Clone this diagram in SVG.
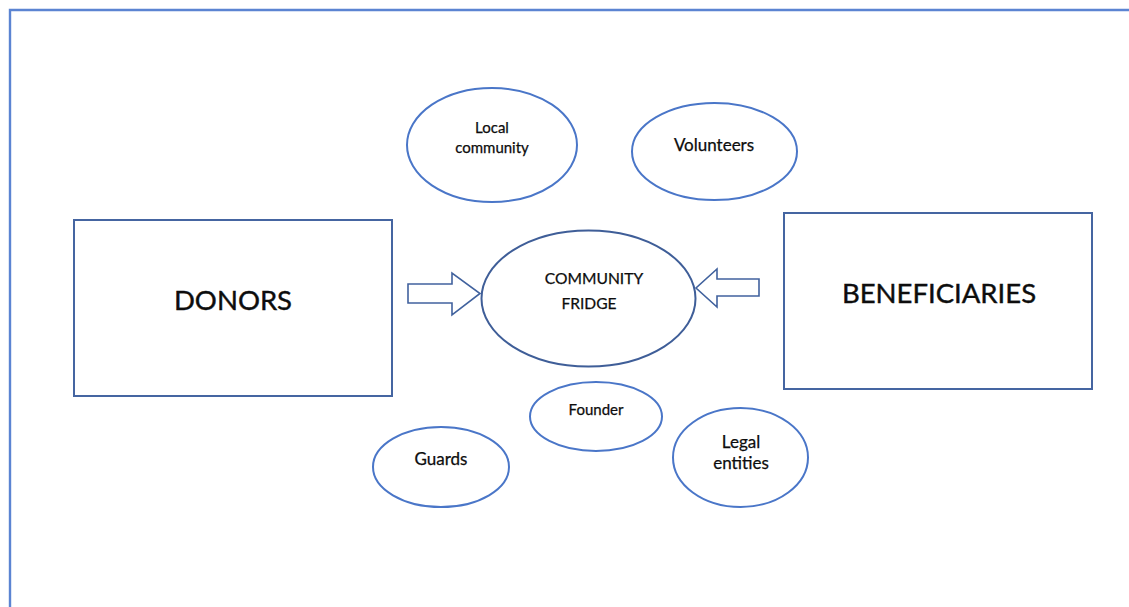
<svg xmlns="http://www.w3.org/2000/svg" width="1129" height="607" viewBox="0 0 1129 607">
  <style>
    .frame { fill: none; stroke: #5b84d2; stroke-width: 2.4; }
    .box { fill: #ffffff; stroke: #4565a1; stroke-width: 2; }
    .hub { fill: #ffffff; stroke: #3f5e98; stroke-width: 2; }
    .role { fill: #ffffff; stroke: #4a76c8; stroke-width: 2; }
    .arrow { fill: #ffffff; stroke: #41629e; stroke-width: 1.6; stroke-linejoin: miter; }
    text { font-family: Lato, "Open Sans", "Liberation Sans", sans-serif; fill: #0d0d0d; text-anchor: middle; stroke: #0d0d0d; stroke-width: 0.25; }
    .big { font-size: 27.5px; stroke-width: 0.4; }
    .mid { font-size: 15.6px; }
    .small { font-size: 15px; }
    .role-lg { font-size: 17px; }
  </style>
  <rect width="1129" height="607" fill="#ffffff"/>
  <path class="frame" d="M10,607 V10 H1129"/>

  <g id="donors">
    <rect class="box" x="74" y="220" width="318" height="176"/>
    <text class="big" x="233" y="310">DONORS</text>
  </g>

  <g id="beneficiaries">
    <rect class="box" x="784" y="213" width="308" height="176"/>
    <text class="big" x="939" y="303">BENEFICIARIES</text>
  </g>

  <g id="community-fridge">
    <ellipse class="hub" cx="588.5" cy="298.5" rx="107" ry="68"/>
    <text class="mid" x="594" y="284">COMMUNITY</text>
    <text class="mid" x="589" y="309">FRIDGE</text>
  </g>

  <g id="local-community">
    <ellipse class="role" cx="492" cy="145" rx="85" ry="57"/>
    <text class="small" x="492" y="133">Local</text>
    <text class="small" x="492" y="153">community</text>
  </g>

  <g id="volunteers">
    <ellipse class="role" cx="714.5" cy="151.5" rx="82.5" ry="48.5"/>
    <text class="role-lg" x="714" y="151">Volunteers</text>
  </g>

  <g id="founder">
    <ellipse class="role" cx="596" cy="416.5" rx="66" ry="34.5"/>
    <text class="small" x="596" y="415">Founder</text>
  </g>

  <g id="guards">
    <ellipse class="role" cx="441" cy="467" rx="68" ry="40"/>
    <text class="role-lg" x="441" y="465">Guards</text>
  </g>

  <g id="legal-entities">
    <ellipse class="role" cx="740.5" cy="457.5" rx="67.5" ry="49.5"/>
    <text class="role-lg" x="741" y="448">Legal</text>
    <text class="role-lg" x="741" y="469">entities</text>
  </g>

  <g id="connectors">
    <!-- block arrow from donors into the fridge -->
    <polygon class="arrow" points="408,284 452,284 452,273 480,293.5 452,315 452,303 408,303"/>
    <!-- block arrow from beneficiaries into the fridge -->
    <polygon class="arrow" points="759,279 717,279 717,269 696,288 717,307 717,296 759,296"/>
  </g>
</svg>
